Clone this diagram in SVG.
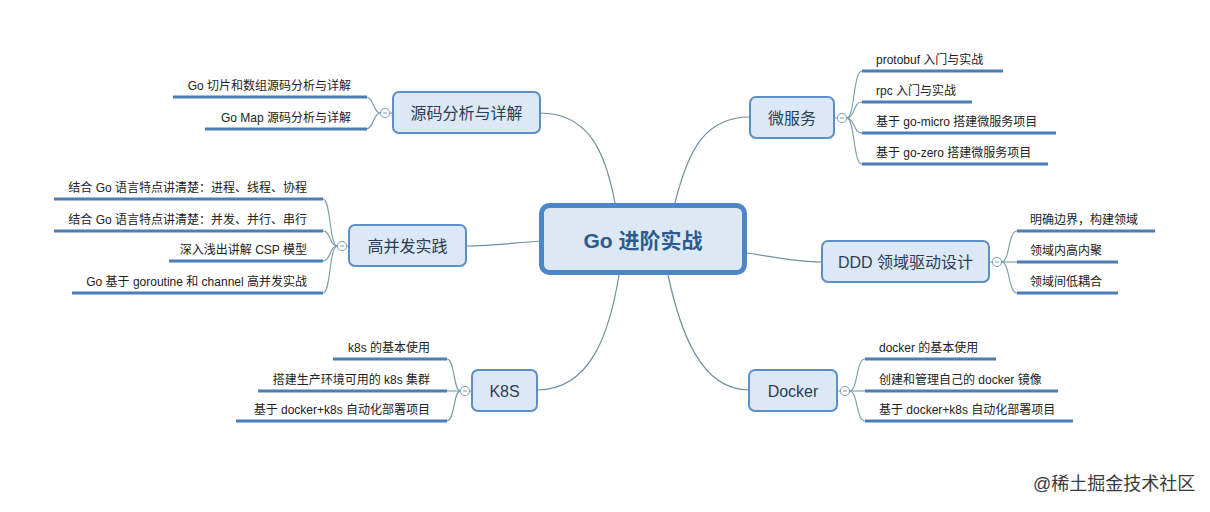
<svg xmlns="http://www.w3.org/2000/svg" width="1210" height="512" viewBox="0 0 1210 512">
<defs>
<style>
.bg{fill:#ffffff}
.conn{fill:none;stroke:#6f8f9f;stroke-width:1.2}
.br{fill:none;stroke:#7a9bab;stroke-width:1.1}
.ul{stroke:#4d7db6;stroke-width:3;stroke-linecap:butt}
.node{fill:#dce8f5;stroke:#5d8ec6;stroke-width:2}
.center{fill:#dde8f5;stroke:#4a86c8;stroke-width:5}
.nt{font-family:"Liberation Sans","Noto Sans CJK SC",sans-serif;font-size:16px;fill:#2c3e57;text-anchor:middle}
.ct{font-family:"Liberation Sans","Noto Sans CJK SC",sans-serif;font-size:21px;font-weight:bold;fill:#2e5b8e;text-anchor:middle}
.tl{font-family:"Liberation Sans","Noto Sans CJK SC",sans-serif;font-size:12px;fill:#222;text-anchor:end}
.tr{font-family:"Liberation Sans","Noto Sans CJK SC",sans-serif;font-size:12px;fill:#222;text-anchor:start}
.col{fill:#ffffff;stroke:#7fa2b5;stroke-width:1.1}
.minus{stroke:#8a9aa5;stroke-width:1}
.wm{font-family:"Liberation Sans","Noto Sans CJK SC",sans-serif;font-size:18px;fill:#3a3a3a}
</style>
</defs>
<rect class="bg" x="0" y="0" width="1210" height="512"/>

<g id="connectors">
<path class="conn" d="M615,203 C605,150 588,113 539,113"/>
<path class="conn" d="M675,203 C688,150 705,117 750,117"/>
<path class="conn" d="M541,241 C512,243 492,246 466,246"/>
<path class="conn" d="M747,253 C775,257 795,262 822,262"/>
<path class="conn" d="M619,275 C610,330 592,390 537,390"/>
<path class="conn" d="M668,275 C680,330 700,390 749,390"/>
<!-- node to collapse circles -->
<path class="br" d="M393,113 L389.5,113"/>
<path class="br" d="M349,246 L346.5,246"/>
<path class="br" d="M472,391 L469.5,391"/>
<path class="br" d="M834,118 L837.5,118"/>
<path class="br" d="M989,262 L992.5,262"/>
<path class="br" d="M837,391 L840.5,391"/>
<!-- 源码 children braces -->
<path class="br" d="M380.5,113 C373,113 374,97 366,97"/>
<path class="br" d="M380.5,113 C373,113 374,129 366,129"/>
<!-- 高并发 braces -->
<path class="br" d="M337.5,246 C329,246 331,199 323,199"/>
<path class="br" d="M337.5,246 C329,246 331,231 323,231"/>
<path class="br" d="M337.5,246 C329,246 331,261 323,261"/>
<path class="br" d="M337.5,246 C329,246 331,293 323,293"/>
<!-- K8S braces -->
<path class="br" d="M460.5,391 C453,391 455,359 447,359"/>
<path class="br" d="M460.5,391 L447,391"/>
<path class="br" d="M460.5,391 C453,391 455,421 447,421"/>
<!-- 微服务 braces -->
<path class="br" d="M846.5,118 C855,118 853,71 862,71"/>
<path class="br" d="M846.5,118 C855,118 853,102 862,102"/>
<path class="br" d="M846.5,118 C855,118 853,133 862,133"/>
<path class="br" d="M846.5,118 C855,118 853,164 862,164"/>
<!-- DDD braces -->
<path class="br" d="M1001.5,262 C1010,262 1008,231 1017,231"/>
<path class="br" d="M1001.5,262 L1017,262"/>
<path class="br" d="M1001.5,262 C1010,262 1008,293 1017,293"/>
<!-- Docker braces -->
<path class="br" d="M849.5,391 C858,391 856,359 865,359"/>
<path class="br" d="M849.5,391 L865,391"/>
<path class="br" d="M849.5,391 C858,391 856,421 865,421"/>
</g>

<g id="center">
<rect class="center" x="541.5" y="205.5" width="203" height="67" rx="8"/>
<text class="ct" x="643" y="248">Go 进阶实战</text>
</g>

<g id="n-yuanma">
<rect class="node" x="393" y="92" width="147" height="41" rx="6"/>
<text class="nt" x="466.5" y="118.5">源码分析与详解</text>
<circle class="col" cx="385" cy="113" r="4.5"/><line class="minus" x1="383" y1="113" x2="387" y2="113"/>
</g>
<g id="c-yuanma-1"><line class="ul" x1="173" y1="97" x2="367" y2="97"/><text class="tl" x="351" y="90">Go 切片和数组源码分析与详解</text></g>
<g id="c-yuanma-2"><line class="ul" x1="205" y1="129" x2="367" y2="129"/><text class="tl" x="351" y="122">Go Map 源码分析与详解</text></g>

<g id="n-gaobingfa">
<rect class="node" x="349" y="225" width="117" height="41" rx="6"/>
<text class="nt" x="407.5" y="251.5">高并发实践</text>
<circle class="col" cx="342" cy="246" r="4.5"/><line class="minus" x1="340" y1="246" x2="344" y2="246"/>
</g>
<g id="c-gbf-1"><line class="ul" x1="54" y1="199" x2="323" y2="199"/><text class="tl" x="307" y="192">结合 Go 语言特点讲清楚：进程、线程、协程</text></g>
<g id="c-gbf-2"><line class="ul" x1="54" y1="231" x2="323" y2="231"/><text class="tl" x="307" y="224">结合 Go 语言特点讲清楚：并发、并行、串行</text></g>
<g id="c-gbf-3"><line class="ul" x1="169" y1="261" x2="323" y2="261"/><text class="tl" x="307" y="254">深入浅出讲解 CSP 模型</text></g>
<g id="c-gbf-4"><line class="ul" x1="72" y1="293" x2="323" y2="293"/><text class="tl" x="307" y="286">Go 基于 goroutine 和 channel 高并发实战</text></g>

<g id="n-k8s">
<rect class="node" x="472" y="370" width="65" height="41" rx="6"/>
<text class="nt" x="504.5" y="396.5">K8S</text>
<circle class="col" cx="465" cy="391" r="4.5"/><line class="minus" x1="463" y1="391" x2="467" y2="391"/>
</g>
<g id="c-k8s-1"><line class="ul" x1="333" y1="359" x2="447" y2="359"/><text class="tl" x="430" y="352">k8s 的基本使用</text></g>
<g id="c-k8s-2"><line class="ul" x1="258" y1="391" x2="447" y2="391"/><text class="tl" x="430" y="384">搭建生产环境可用的 k8s 集群</text></g>
<g id="c-k8s-3"><line class="ul" x1="236" y1="421" x2="447" y2="421"/><text class="tl" x="430" y="414">基于 docker+k8s 自动化部署项目</text></g>

<g id="n-weifuwu">
<rect class="node" x="750" y="97" width="84" height="41" rx="6"/>
<text class="nt" x="792" y="123.5">微服务</text>
<circle class="col" cx="842" cy="118" r="4.5"/><line class="minus" x1="840" y1="118" x2="844" y2="118"/>
</g>
<g id="c-wfw-1"><line class="ul" x1="862" y1="71" x2="1003" y2="71"/><text class="tr" x="876" y="64">protobuf 入门与实战</text></g>
<g id="c-wfw-2"><line class="ul" x1="862" y1="102" x2="972" y2="102"/><text class="tr" x="876" y="95">rpc 入门与实战</text></g>
<g id="c-wfw-3"><line class="ul" x1="862" y1="133" x2="1056" y2="133"/><text class="tr" x="876" y="126">基于 go-micro 搭建微服务项目</text></g>
<g id="c-wfw-4"><line class="ul" x1="862" y1="164" x2="1048" y2="164"/><text class="tr" x="876" y="157">基于 go-zero 搭建微服务项目</text></g>

<g id="n-ddd">
<rect class="node" x="822" y="241" width="167" height="41" rx="6"/>
<text class="nt" x="905.5" y="267.5">DDD 领域驱动设计</text>
<circle class="col" cx="997" cy="262" r="4.5"/><line class="minus" x1="995" y1="262" x2="999" y2="262"/>
</g>
<g id="c-ddd-1"><line class="ul" x1="1017" y1="231" x2="1155" y2="231"/><text class="tr" x="1030" y="224">明确边界，构建领域</text></g>
<g id="c-ddd-2"><line class="ul" x1="1017" y1="262" x2="1118" y2="262"/><text class="tr" x="1030" y="255">领域内高内聚</text></g>
<g id="c-ddd-3"><line class="ul" x1="1017" y1="293" x2="1118" y2="293"/><text class="tr" x="1030" y="286">领域间低耦合</text></g>

<g id="n-docker">
<rect class="node" x="749" y="370" width="88" height="41" rx="6"/>
<text class="nt" x="793" y="396.5">Docker</text>
<circle class="col" cx="845" cy="391" r="4.5"/><line class="minus" x1="843" y1="391" x2="847" y2="391"/>
</g>
<g id="c-docker-1"><line class="ul" x1="865" y1="359" x2="996" y2="359"/><text class="tr" x="879" y="352">docker 的基本使用</text></g>
<g id="c-docker-2"><line class="ul" x1="865" y1="391" x2="1058" y2="391"/><text class="tr" x="879" y="384">创建和管理自己的 docker 镜像</text></g>
<g id="c-docker-3"><line class="ul" x1="865" y1="421" x2="1073" y2="421"/><text class="tr" x="879" y="414">基于 docker+k8s 自动化部署项目</text></g>

<text class="wm" x="1033" y="490">@稀土掘金技术社区</text>
</svg>
